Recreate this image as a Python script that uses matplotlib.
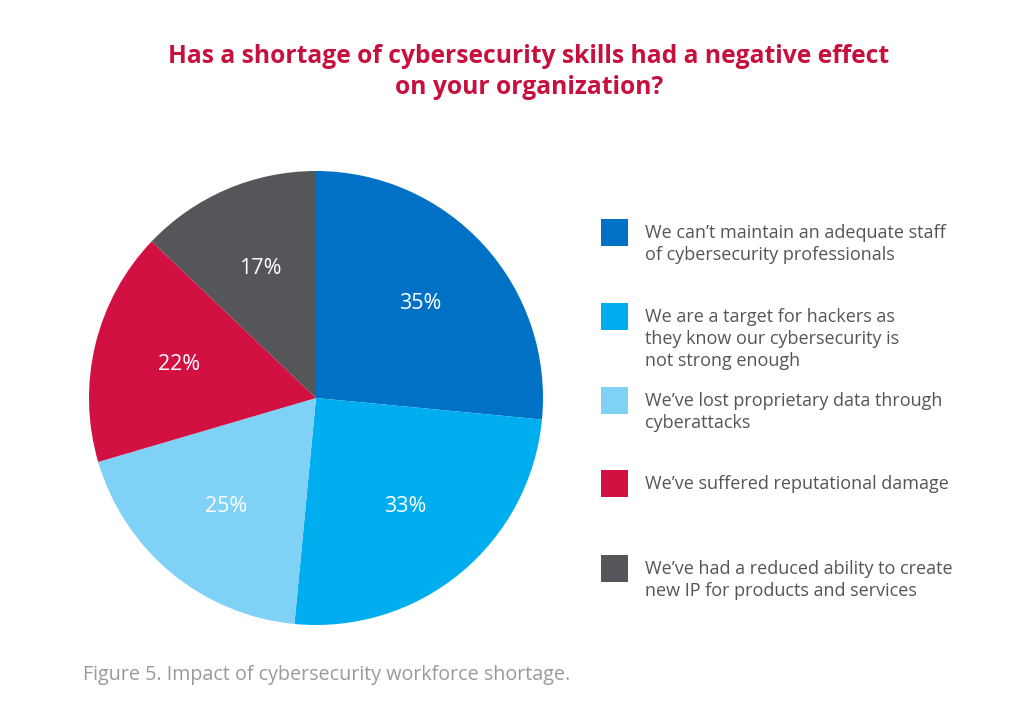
import matplotlib.pyplot as plt
from matplotlib.patches import Rectangle

values = [35, 33, 25, 22, 17]
pct_labels = [f"{v}%" for v in values]
colors = ['#0071c5', '#00aeef', '#7fd1f6', '#d21042', '#55565a']
legend_labels = [
    "We can\u2019t maintain an adequate staff\nof cybersecurity professionals",
    "We are a target for hackers as\nthey know our cybersecurity is\nnot strong enough",
    "We\u2019ve lost proprietary data through\ncyberattacks",
    "We\u2019ve suffered reputational damage",
    "We\u2019ve had a reduced ability to create\nnew IP for products and services",
]
title = "Has a shortage of cybersecurity skills had a negative effect\non your organization?"
caption = "Figure 5. Impact of cybersecurity workforce shortage."

plt.rcParams['font.family'] = ['Open Sans', 'DejaVu Sans']

W, H = 1024, 721
fig = plt.figure(figsize=(W / 100, H / 100), dpi=100)
fig.patch.set_facecolor('white')

# pie centred at (316, 398) px, radius 227 px
cx, cy, r = 316, 398, 227
ax = fig.add_axes([(cx - r) / W, (H - cy - r) / H, 2 * r / W, 2 * r / H])
wedges, texts = ax.pie(values, colors=colors, startangle=90, counterclock=False,
                       labels=pct_labels, labeldistance=0.62,
                       wedgeprops=dict(linewidth=0))
for t in texts:
    t.set_color('white')
    t.set_fontsize(15.5)
    t.set_ha('center')
    t.set_va('center')
ax.set_xlim(-1, 1)
ax.set_ylim(-1, 1)
ax.set_aspect('equal')
ax.axis('off')

fig.text(529 / W, 1 - 72 / H, title, ha='center', va='center', fontsize=17.7,
         fontweight='bold', color='#c8103e', linespacing=1.3)

# legend
box_tops = [219, 303, 387, 470, 555]
for top, label, c in zip(box_tops, legend_labels, colors):
    fig.patches.append(Rectangle((601 / W, 1 - (top + 27) / H), 27 / W, 27 / H,
                                 transform=fig.transFigure, facecolor=c, edgecolor='none'))
    fig.text(645 / W, 1 - (top + 5) / H, label, ha='left', va='top', fontsize=13,
             color='#555555', linespacing=1.28)

fig.text(83 / W, 1 - 675 / H, caption, ha='left', va='center', fontsize=14.2,
         color='#9a9a9a')

fig.savefig('out.png', dpi=100, facecolor='white')
